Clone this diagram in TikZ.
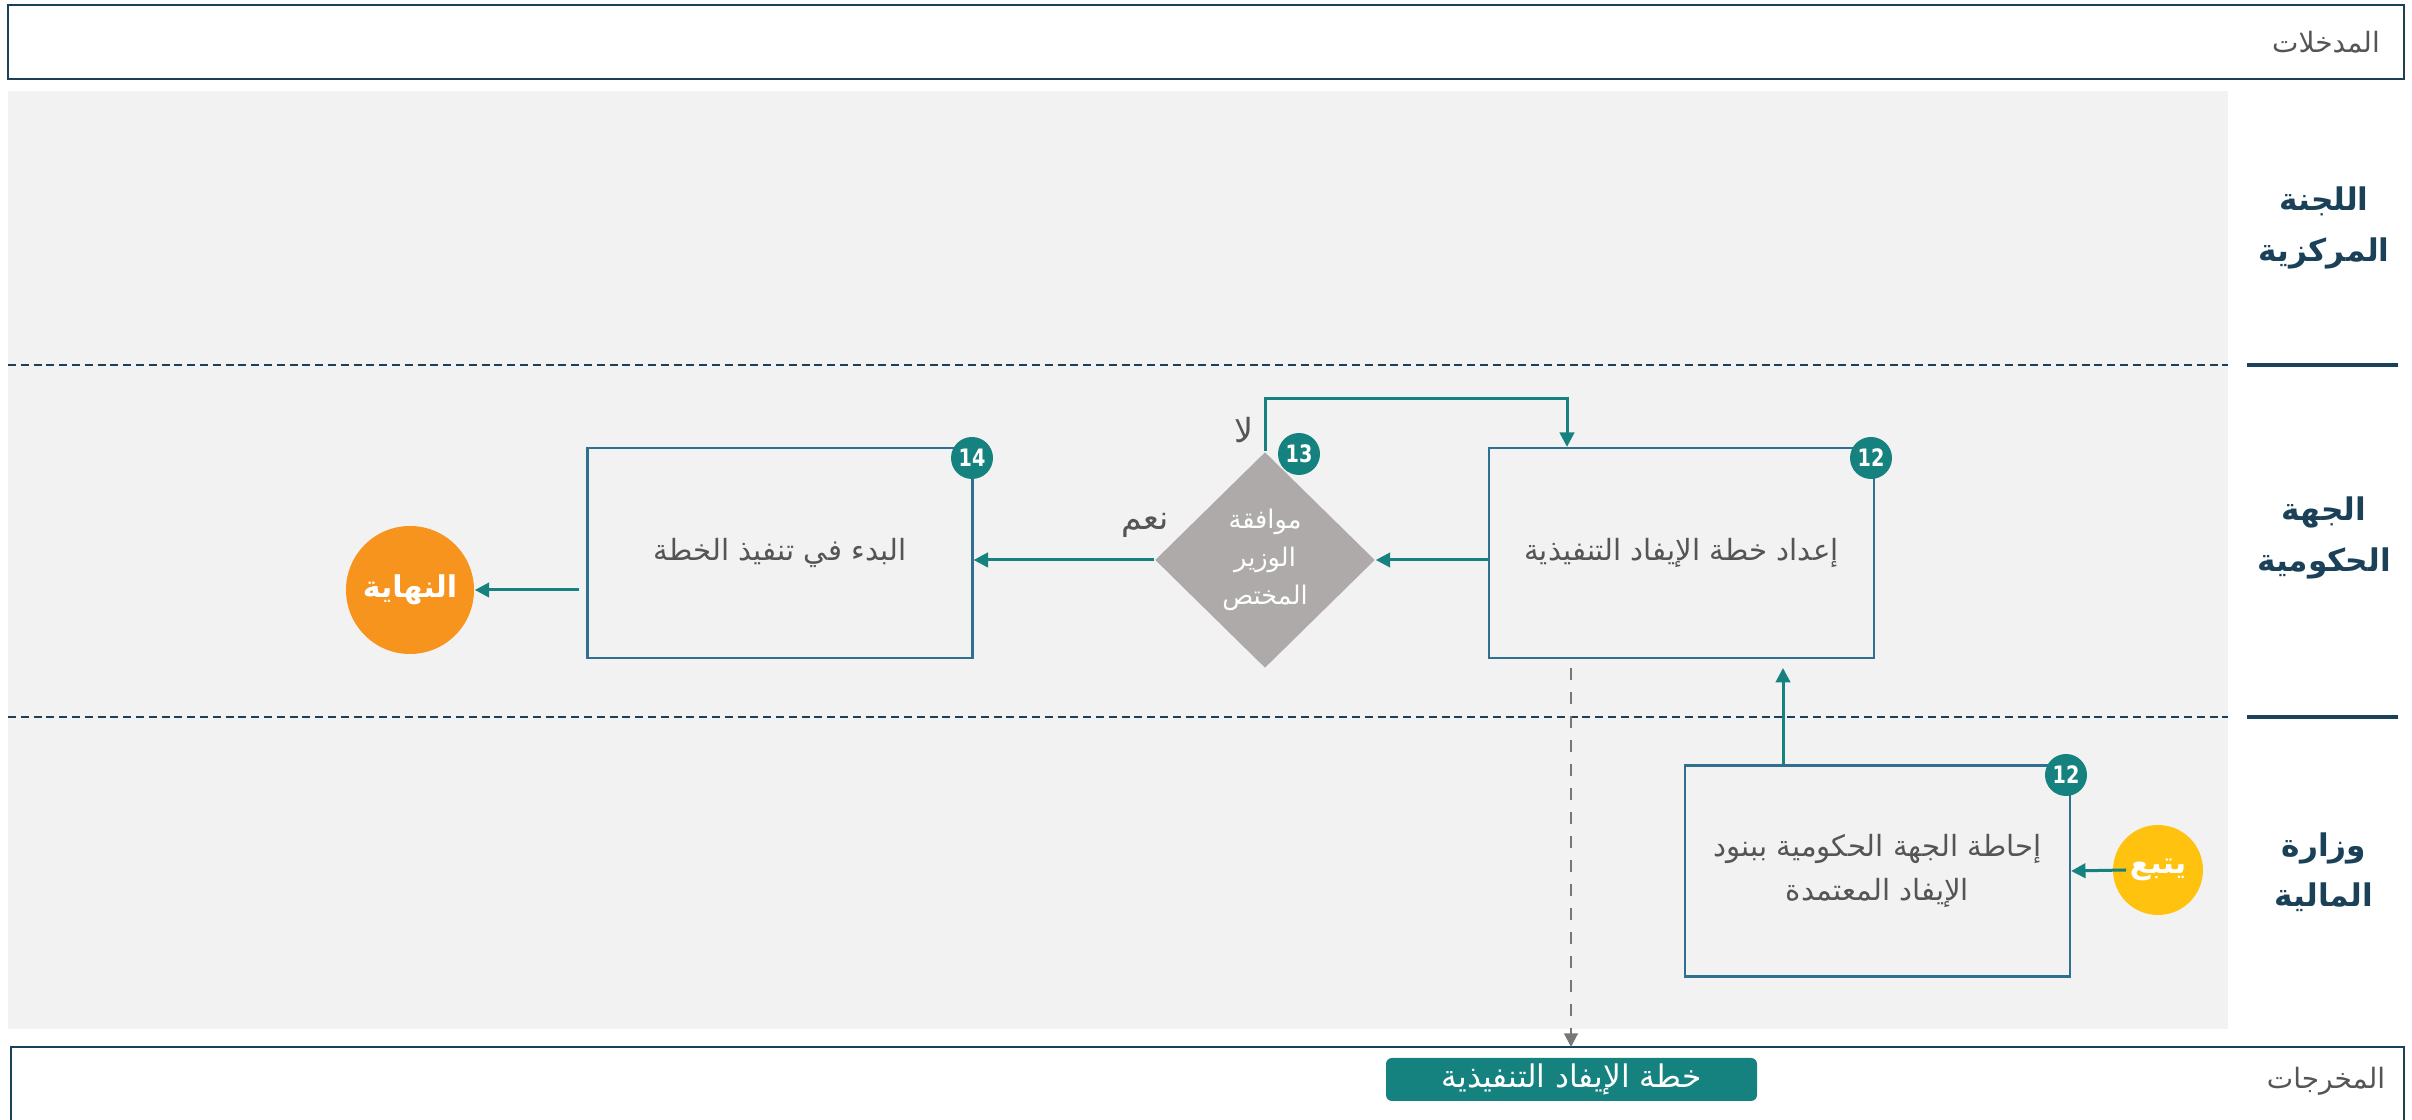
\documentclass[tikz,border=0pt]{standalone}
\usepackage{fontspec}
\setmainfont{DejaVu Sans}
\newfontfamily\arabicfont[Script=Arabic]{DejaVu Sans}
\newfontfamily\numfont[FakeStretch=0.8]{DejaVu Sans}
\TeXXeTstate=1
\newcommand{\artext}[1]{\beginR #1\endR}
\usetikzlibrary{arrows.meta,shapes.geometric}
\definecolor{tealc}{HTML}{16827F}
\definecolor{boxline}{HTML}{2F6F8F}
\definecolor{navyc}{HTML}{1A4157}
\definecolor{lanebg}{HTML}{F2F2F2}
\definecolor{diagc}{HTML}{ADAAA9}
\definecolor{orngc}{HTML}{F7941E}
\definecolor{yelc}{HTML}{FFC20F}
\definecolor{txtc}{HTML}{555555}
\definecolor{dashc}{HTML}{777777}
\tikzset{
  stepbox/.style={draw=boxline, line width=0.55pt, fill=lanebg, minimum width=96.25pt, minimum height=52.5pt, inner sep=0pt, align=center, text=txtc, font=\arabicfont\fontsize{7.3pt}{11pt}\selectfont},
  badge/.style={circle, fill=tealc, minimum size=10.5pt, inner sep=0pt, text=white, font=\numfont\bfseries\fontsize{6pt}{6pt}\selectfont},
  arr/.style={draw=tealc, line width=0.75pt, -{Triangle[length=3.6pt,width=3.6pt]}},
  dasharr/.style={draw=dashc, line width=0.55pt, dashed, -{Triangle[length=3.4pt,width=3.4pt]}},
  lanelabel/.style={text=navyc, align=center, font=\arabicfont\bfseries\fontsize{7.8pt}{12.6pt}\selectfont},
  headlabel/.style={text=txtc, font=\arabicfont\fontsize{7pt}{8pt}\selectfont},
  lanesep/.style={draw=navyc, line width=0.5pt, dash pattern=on 2pt off 1.2pt},
  laneline/.style={draw=navyc, line width=1pt},
  smalllbl/.style={text=txtc, font=\arabicfont\fontsize{8.3pt}{9pt}\selectfont},
}
\begin{document}
\begin{tikzpicture}[x=0.25pt,y=-0.25pt]
\useasboundingbox (0,0) rectangle (2412,1120);
\fill[white] (0,0) rectangle (2412,1120);
% inputs box
\draw[draw=navyc, line width=0.7pt] (8,5) rectangle (2404,79);
\node[headlabel] (inlbl) at (2326,42) {\artext{المدخلات}};
% lanes background
\fill[lanebg] (8,91) rectangle (2228,1029);
\draw[lanesep] (8,365) -- (2228,365);
\draw[lanesep] (8,717) -- (2228,717);
\draw[laneline] (2247,365) -- (2398,365);
\draw[laneline] (2247,717) -- (2398,717);
\node[lanelabel] (lane1) at (2324,228) {\artext{اللجنة}\\\artext{المركزية}};
\node[lanelabel] (lane2) at (2324,538) {\artext{الجهة}\\\artext{الحكومية}};
\node[lanelabel] (lane3) at (2324,872) {\artext{وزارة}\\\artext{المالية}};
% outputs box (open bottom)
\draw[draw=navyc, line width=0.7pt] (11,1122) -- (11,1047) -- (2404,1047) -- (2404,1122);
\coordinate (outtop) at (1571,1047);
\node[headlabel] (outlbl) at (2326,1081) {\artext{المخرجات}};
\node[fill=tealc, rounded corners=1.5pt, minimum width=92.75pt, minimum height=10.75pt, inner sep=0pt, text=white, font=\arabicfont\fontsize{7.8pt}{8pt}\selectfont] (outtag) at (1571.5,1079.5) {\artext{خطة الإيفاد التنفيذية}};
% steps
\node[stepbox] (b12) at (1681.5,553) {\artext{إعداد خطة الإيفاد التنفيذية}};
\node[stepbox] (b14) at (780,553) {\artext{البدء في تنفيذ الخطة}};
\node[stepbox, minimum height=52.75pt] (b12b) at (1877.5,871) {\artext{إحاطة الجهة الحكومية ببنود}\\\artext{الإيفاد المعتمدة}};
\node[diamond, fill=diagc, minimum width=55pt, minimum height=54pt, inner sep=0pt, aspect=1, text=white, align=center, font=\arabicfont\fontsize{6.4pt}{9.5pt}\selectfont] (dia) at (1265,560) {\artext{موافقة}\\\artext{الوزير}\\\artext{المختص}};
\node[circle, fill=orngc, minimum size=32pt, inner sep=0pt, text=white, font=\arabicfont\bfseries\fontsize{7.5pt}{9pt}\selectfont] (endc) at (410,590) {\artext{النهاية}};
\node[circle, fill=yelc, minimum size=22.5pt, inner sep=0pt, text=white, font=\arabicfont\bfseries\fontsize{7.5pt}{9pt}\selectfont] (yatba) at (2158,870) {\artext{يتبع}};
% badges
\node[badge] (n12) at (1871,458) {12};
\node[badge] (n13) at (1299,454) {13};
\node[badge] (n14) at (972,458) {14};
\node[badge] (n12b) at (2066,775) {12};
% labels
\node[smalllbl] (lno) at (1244,430) {\artext{لا}};
\node[smalllbl] (lyes) at (1145,525) {\artext{نعم}};
% connectors
\draw[arr] (dia.east -| b12.west) -- (dia.east);
\draw[arr] (dia.west) -- (dia.west -| b14.east);
\coordinate (loopc) at (1567,399);
\draw[arr] (dia.north) |- (loopc) -- (loopc |- b12.north);
\draw[arr] ([xshift=-1.75pt,yshift=-9.25pt]b14.west) -- (endc.east);
\coordinate (upx) at (1783,668);
\draw[arr] (upx |- b12b.north) -- (upx);
\draw[arr] ([xshift=3.5pt]yatba.west) -- (b12b.east);
\coordinate (dtop) at (1571,668);
\draw[dasharr] (dtop) -- (outtop);
\end{tikzpicture}
\end{document}
